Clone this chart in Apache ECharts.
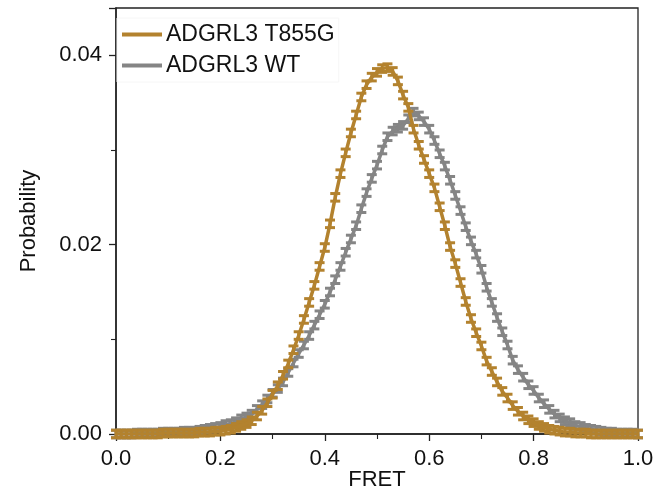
<!DOCTYPE html>
<html><head><meta charset="utf-8">
<script src="https://cdn.jsdelivr.net/npm/echarts@6/dist/echarts.min.js"></script>
<style>html,body{margin:0;padding:0;background:#fff}#c{width:668px;height:489px}</style>
</head><body><div id="c"></div>
<script>
var fret = [0.00,0.01,0.02,0.03,0.04,0.05,0.06,0.07,0.08,0.09,0.10,0.11,0.12,0.13,0.14,0.15,0.16,0.17,0.18,0.19,0.20,0.21,0.22,0.23,0.24,0.25,0.26,0.27,0.28,0.29,0.30,0.31,0.32,0.33,0.34,0.35,0.36,0.37,0.38,0.39,0.40,0.41,0.42,0.43,0.44,0.45,0.46,0.47,0.48,0.49,0.50,0.51,0.52,0.53,0.54,0.55,0.56,0.57,0.58,0.59,0.60,0.61,0.62,0.63,0.64,0.65,0.66,0.67,0.68,0.69,0.70,0.71,0.72,0.73,0.74,0.75,0.76,0.77,0.78,0.79,0.80,0.81,0.82,0.83,0.84,0.85,0.86,0.87,0.88,0.89,0.90,0.91,0.92,0.93,0.94,0.95,0.96,0.97,0.98,0.99,1.00];
var t855g = [0.0000,0.0000,0.0000,0.0000,0.0000,0.0000,0.0000,0.0000,0.0000,0.0001,0.0001,0.0001,0.0001,0.0001,0.0001,0.0001,0.0002,0.0002,0.0002,0.0003,0.0003,0.0004,0.0005,0.0007,0.0009,0.0011,0.0014,0.0019,0.0025,0.0033,0.0042,0.0051,0.0062,0.0074,0.0089,0.0104,0.0121,0.0139,0.0157,0.0177,0.0197,0.0222,0.0250,0.0275,0.0297,0.0318,0.0337,0.0356,0.0369,0.0377,0.0382,0.0386,0.0387,0.0383,0.0373,0.0358,0.0345,0.0322,0.0305,0.0290,0.0275,0.0260,0.0240,0.0220,0.0198,0.0180,0.0160,0.0140,0.0122,0.0107,0.0093,0.0077,0.0066,0.0055,0.0045,0.0038,0.0030,0.0024,0.0019,0.0015,0.0012,0.0009,0.0007,0.0005,0.0004,0.0003,0.0002,0.0002,0.0001,0.0001,0.0001,0.0000,0.0000,0.0000,0.0000,0.0000,0.0000,0.0000,0.0000,0.0000,0.0000];
var wt = [0.0000,0.0000,0.0000,0.0000,0.0001,0.0001,0.0001,0.0001,0.0001,0.0002,0.0002,0.0002,0.0002,0.0003,0.0003,0.0003,0.0004,0.0005,0.0006,0.0007,0.0008,0.0010,0.0011,0.0013,0.0016,0.0018,0.0021,0.0026,0.0031,0.0037,0.0043,0.0048,0.0055,0.0065,0.0075,0.0085,0.0094,0.0104,0.0115,0.0126,0.0137,0.0150,0.0163,0.0177,0.0192,0.0206,0.0220,0.0238,0.0255,0.0270,0.0284,0.0300,0.0314,0.0320,0.0323,0.0326,0.0333,0.0340,0.0336,0.0330,0.0322,0.0310,0.0296,0.0283,0.0268,0.0252,0.0236,0.0219,0.0204,0.0190,0.0174,0.0155,0.0139,0.0123,0.0108,0.0094,0.0078,0.0068,0.0060,0.0052,0.0046,0.0038,0.0032,0.0026,0.0021,0.0017,0.0014,0.0012,0.0009,0.0008,0.0006,0.0005,0.0004,0.0003,0.0002,0.0002,0.0001,0.0001,0.0001,0.0001,0.0000];
var errT855G = 0.0004;
var errWT = 0.0004;
var seriesNames = ['ADGRL3 T855G','ADGRL3 WT'];
var colors = ['#B3822E','#858585'];
var xTicks = [0.0,0.2,0.4,0.6,0.8,1.0];
var yTicks = [0.00,0.02,0.04];

function pairs(ys){ return fret.map(function(x,i){ return [x, ys[i]]; }); }
function errData(ys, e){ return fret.map(function(x,i){ return [x, ys[i], e]; }); }
function errRender(color){
  return function(params, api){
    var x = api.value(0), y = api.value(1), e = api.value(2);
    var top = api.coord([x, y + e]);
    var bot = api.coord([x, y - e]);
    var hw = 5;
    var st = {stroke: color, lineWidth: 3};
    return {type:'group', children:[
      {type:'line', shape:{x1:top[0], y1:top[1], x2:bot[0], y2:bot[1]}, style:st},
      {type:'line', shape:{x1:top[0]-hw, y1:top[1], x2:top[0]+hw, y2:top[1]}, style:st},
      {type:'line', shape:{x1:bot[0]-hw, y1:bot[1], x2:bot[0]+hw, y2:bot[1]}, style:st}
    ]};
  };
}
var chart = echarts.init(document.getElementById('c'), null, {renderer:'canvas'});
var font = 'Liberation Sans, Arial, sans-serif';
chart.setOption({
  animation:false,
  backgroundColor:'#fff',
  grid:{left:116, right:30, top:8, bottom:55, show:true, borderColor:'#222', borderWidth:1.3,
    backgroundColor:'transparent', containLabel:false, outerBoundsMode:'none'},
  legend:{
    orient:'vertical', left:117, top:18, itemWidth:40, itemHeight:4, itemGap:8,
    icon:'rect', padding:[5,4,5,5],
    backgroundColor:'#fff', borderColor:'#f6f6f6', borderWidth:1,
    textStyle:{fontFamily:font, fontSize:23, color:'#111', padding:[0,0,0,-1]},
    data:[{name:seriesNames[0]},{name:seriesNames[1]}]
  },
  xAxis:{
    type:'value', min:0, max:1, interval:0.2,
    name:'FRET', nameLocation:'middle', nameGap:35, nameMoveOverlap:false,
    nameTextStyle:{fontFamily:font, fontSize:22, color:'#111'},
    axisLine:{show:true, onZero:false, lineStyle:{color:'#222', width:1.5}},
    axisTick:{show:true, inside:false, length:7, lineStyle:{color:'#222', width:1.3}},
    minorTick:{show:true, splitNumber:2, length:5, lineStyle:{color:'#222', width:1.1}},
    splitLine:{show:false},
    axisLabel:{fontFamily:font, fontSize:22, color:'#111', margin:14,
      formatter:function(v){ return v.toFixed(1); }}
  },
  yAxis:{
    type:'value', min:0, max:0.045, interval:0.02,
    name:'Probability', nameLocation:'middle', nameGap:76, nameRotate:90, nameMoveOverlap:false,
    nameTextStyle:{fontFamily:font, fontSize:22, color:'#111'},
    axisLine:{show:true, onZero:false, lineStyle:{color:'#222', width:1.5}},
    axisTick:{show:true, inside:false, length:7, lineStyle:{color:'#222', width:1.3}},
    minorTick:{show:true, splitNumber:2, length:5, lineStyle:{color:'#222', width:1.1}},
    splitLine:{show:false},
    axisLabel:{fontFamily:font, fontSize:22, color:'#111', margin:14, showMaxLabel:false,
      formatter:function(v){ return yTicks.some(function(t){return Math.abs(t-v)<1e-9;}) ? v.toFixed(2) : ''; }}
  },
  series:[
    {name:seriesNames[1], type:'line', data:pairs(wt), showSymbol:false, color:colors[1],
      lineStyle:{color:colors[1], width:3.5}, z:2},
    {name:'errWT', type:'custom', data:errData(wt, errWT), renderItem:errRender(colors[1]), z:2, silent:true},
    {name:seriesNames[0], type:'line', data:pairs(t855g), showSymbol:false, color:colors[0],
      lineStyle:{color:colors[0], width:3.5}, z:3},
    {name:'errT', type:'custom', data:errData(t855g, errT855G), renderItem:errRender(colors[0]), z:3, silent:true}
  ]
});
</script></body></html>
